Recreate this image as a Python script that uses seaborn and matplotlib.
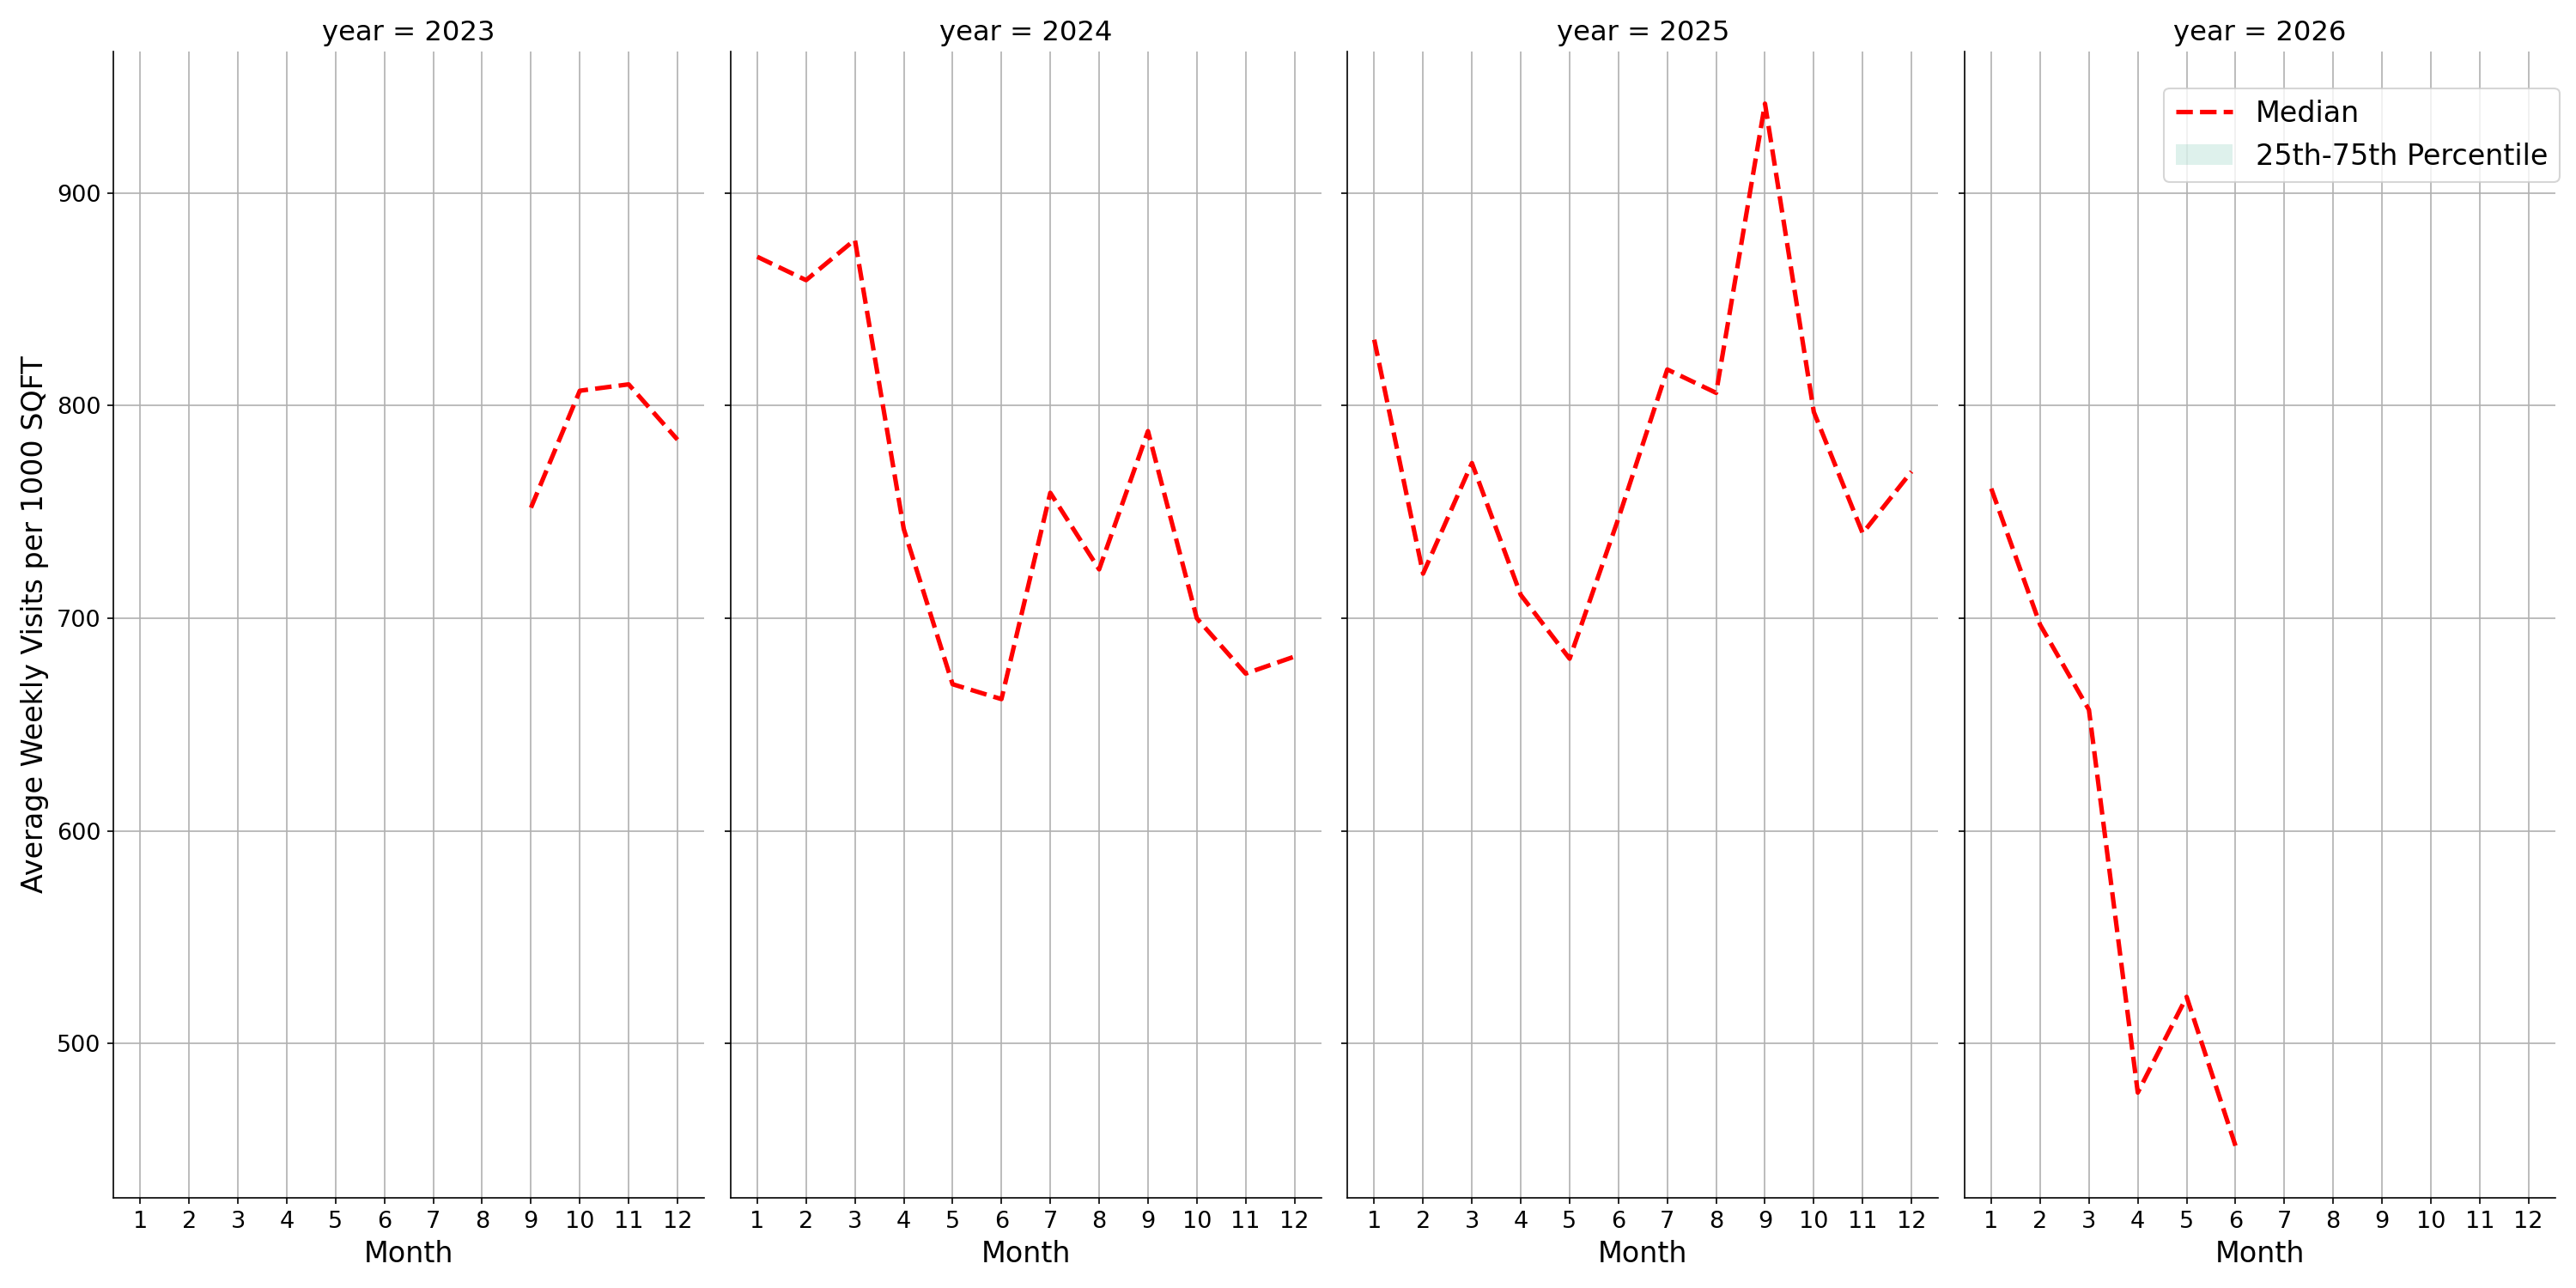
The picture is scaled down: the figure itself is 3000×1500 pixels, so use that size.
import matplotlib
matplotlib.use("Agg")
import matplotlib.pyplot as plt
import numpy as np
import pandas as pd
import seaborn as sns

# Median weekly visits per 1000 sqft, read per month for each year
months_2023 = [9, 10, 11, 12]
median_2023 = [752, 807, 810, 784]

months_2024 = [1, 2, 3, 4, 5, 6, 7, 8, 9, 10, 11, 12]
median_2024 = [870, 859, 878, 742, 669, 662, 759, 723, 788, 700, 674, 682]

months_2025 = [1, 2, 3, 4, 5, 6, 7, 8, 9, 10, 11, 12]
median_2025 = [831, 721, 773, 711, 681, 747, 817, 806, 942, 797, 740, 769]

months_2026 = [1, 2, 3, 4, 5, 6]
median_2026 = [761, 697, 657, 477, 522, 452]

years = [2023, 2024, 2025, 2026]
month_ticks = [1, 2, 3, 4, 5, 6, 7, 8, 9, 10, 11, 12]

frames = []
for yr, m, med in zip(years,
                      [months_2023, months_2024, months_2025, months_2026],
                      [median_2023, median_2024, median_2025, median_2026]):
    frames.append(pd.DataFrame({"year": yr, "month": m, "median": med}))
df = pd.concat(frames, ignore_index=True)

BAND_COLOR = "#5ab9a0"


def draw_panel(data, **kwargs):
    ax = plt.gca()
    sns.lineplot(data=data, x="month", y="median", color="red",
                 linestyle="--", linewidth=2.5, label="Median",
                 legend=False, ax=ax)
    # percentile band collapses onto the median in the source chart
    ax.fill_between(data["month"], data["median"], data["median"],
                    color=BAND_COLOR, alpha=0.2, linewidth=0,
                    label="25th-75th Percentile")


g = sns.FacetGrid(df, col="year", col_order=years, height=10, aspect=0.5,
                  sharex=True, sharey=True)
g.map_dataframe(draw_panel)

g.set_titles("year = {col_name}", size=15.5)
g.set_axis_labels("Month", "Average Weekly Visits per 1000 SQFT", fontsize=16)

for ax in g.axes.flat:
    ax.set_xticks(month_ticks)
    ax.grid(True)
    ax.tick_params(axis="both", labelsize=13)

g.axes.flat[-1].legend(loc="upper right", fontsize=16,
                       bbox_to_anchor=(1.007, 0.968), borderaxespad=0)

g.figure.subplots_adjust(left=0.044, right=0.992, top=0.960, bottom=0.070,
                         wspace=0.044)
g.figure.savefig("out.png", dpi=150)
